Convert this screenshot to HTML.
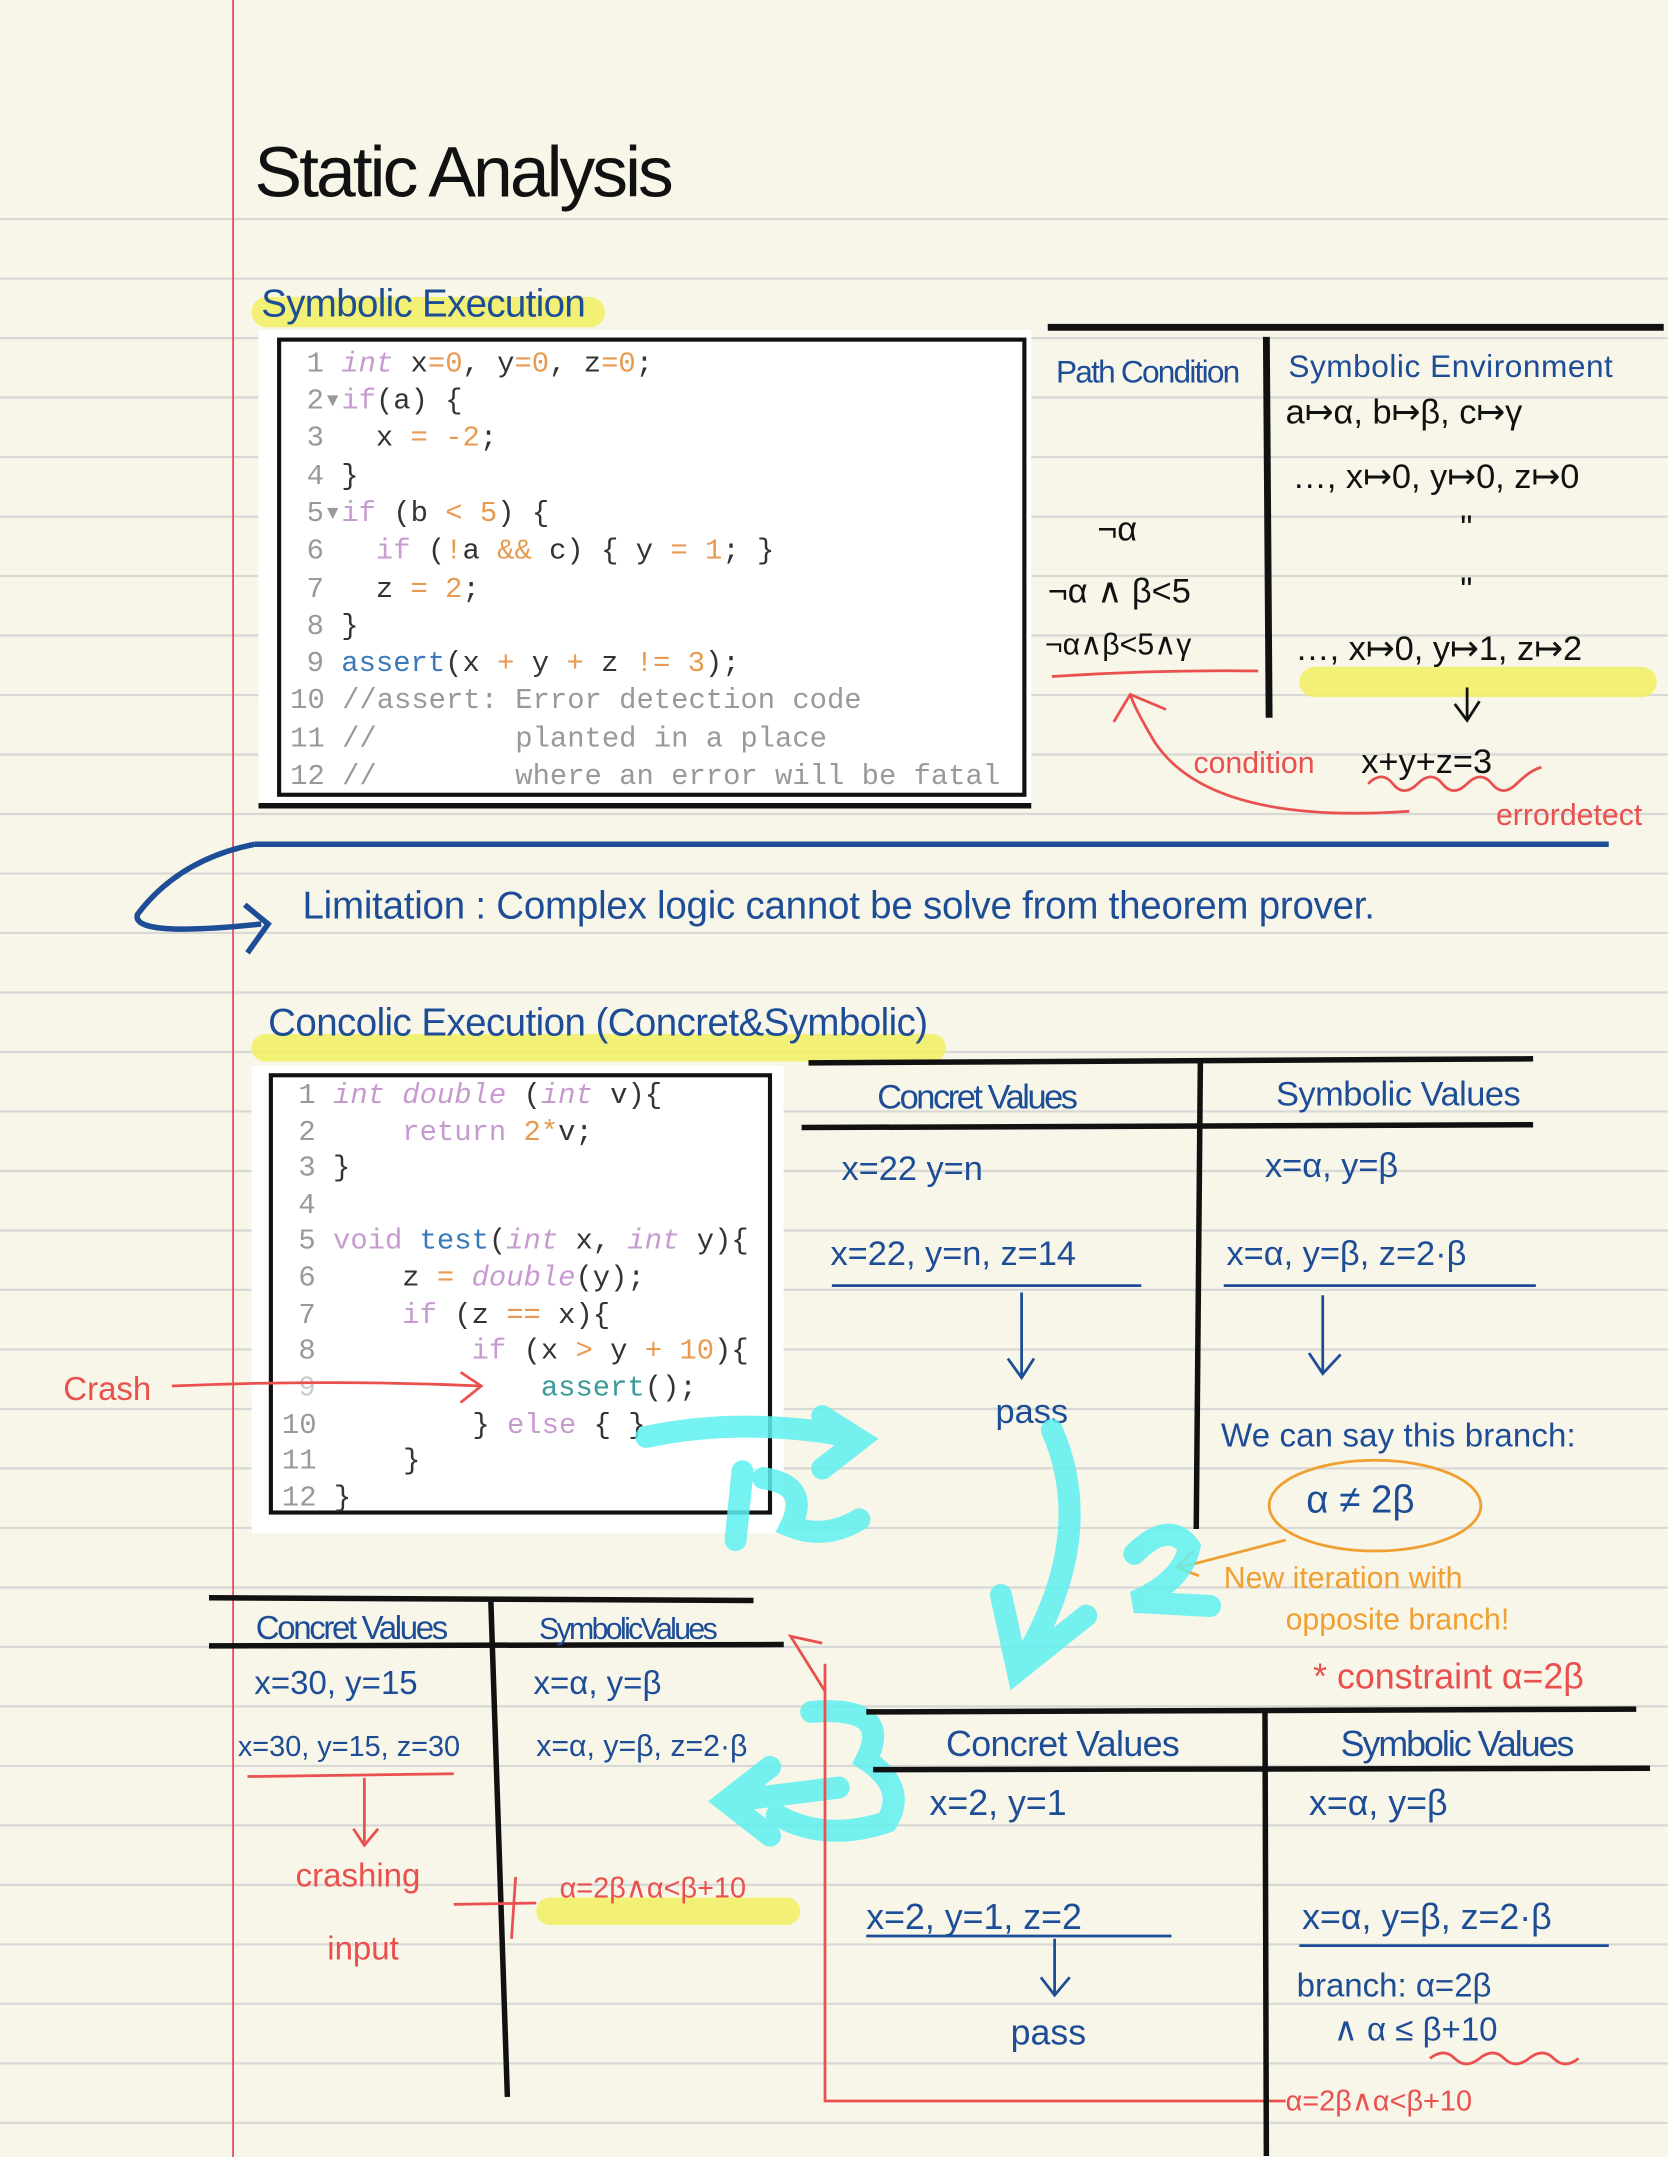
<!DOCTYPE html>
<html><head><meta charset="utf-8"><style>
html,body{margin:0;padding:0;background:#f8f5e9;}
svg{display:block}
.hw{font-family:"Liberation Sans",sans-serif;}
.code{font-family:"Liberation Mono",monospace;font-size:21px;}
</style></head><body>
<svg width="1668" height="2157" viewBox="0 0 1213.1 1568.7" preserveAspectRatio="none" xmlns="http://www.w3.org/2000/svg">
<rect width="1213.1" height="1568.7" fill="#f8f5e9"/>
<g stroke="#d8d8d6" stroke-width="1.6">
<line x1="0" y1="159.3" x2="1213" y2="159.3"/><line x1="0" y1="202.6" x2="1213" y2="202.6"/><line x1="0" y1="245.9" x2="1213" y2="245.9"/><line x1="0" y1="289.1" x2="1213" y2="289.1"/><line x1="0" y1="332.4" x2="1213" y2="332.4"/><line x1="0" y1="375.7" x2="1213" y2="375.7"/><line x1="0" y1="418.9" x2="1213" y2="418.9"/><line x1="0" y1="462.2" x2="1213" y2="462.2"/><line x1="0" y1="505.5" x2="1213" y2="505.5"/><line x1="0" y1="548.7" x2="1213" y2="548.7"/><line x1="0" y1="592" x2="1213" y2="592"/><line x1="0" y1="635.3" x2="1213" y2="635.3"/><line x1="0" y1="678.5" x2="1213" y2="678.5"/><line x1="0" y1="721.8" x2="1213" y2="721.8"/><line x1="0" y1="765.1" x2="1213" y2="765.1"/><line x1="0" y1="808.3" x2="1213" y2="808.3"/><line x1="0" y1="851.6" x2="1213" y2="851.6"/><line x1="0" y1="894.9" x2="1213" y2="894.9"/><line x1="0" y1="938.1" x2="1213" y2="938.1"/><line x1="0" y1="981.4" x2="1213" y2="981.4"/><line x1="0" y1="1024.7" x2="1213" y2="1024.7"/><line x1="0" y1="1067.9" x2="1213" y2="1067.9"/><line x1="0" y1="1111.2" x2="1213" y2="1111.2"/><line x1="0" y1="1154.5" x2="1213" y2="1154.5"/><line x1="0" y1="1197.7" x2="1213" y2="1197.7"/><line x1="0" y1="1241" x2="1213" y2="1241"/><line x1="0" y1="1284.3" x2="1213" y2="1284.3"/><line x1="0" y1="1327.5" x2="1213" y2="1327.5"/><line x1="0" y1="1370.8" x2="1213" y2="1370.8"/><line x1="0" y1="1414.1" x2="1213" y2="1414.1"/><line x1="0" y1="1457.3" x2="1213" y2="1457.3"/><line x1="0" y1="1500.6" x2="1213" y2="1500.6"/><line x1="0" y1="1543.9" x2="1213" y2="1543.9"/>
</g>
<line x1="169.5" y1="0" x2="169.5" y2="1569" stroke="#e0415a" stroke-width="1.2"/>

<text x="185" y="143" class="hw" font-size="52" fill="#111" textLength="305">Static Analysis</text>
<rect x="183" y="216" width="257" height="22" rx="11" fill="#f2f060" opacity="0.85"/>
<text x="190" y="230" class="hw" font-size="28" fill="#1d4d96" textLength="236">Symbolic Execution</text>

<rect x="188" y="240" width="562" height="348" fill="#fff"/>
<rect x="203" y="247" width="542" height="331" fill="none" stroke="#111" stroke-width="3"/>
<line x1="188" y1="586" x2="750" y2="586" stroke="#111" stroke-width="4"/>
<g class="code">
<text x="223" y="270"><tspan fill="#999">1&#160;</tspan><tspan fill="#c89bd0" font-style="italic">int</tspan><tspan fill="#333">&#160;x</tspan><tspan fill="#e89a50">=0</tspan><tspan fill="#333">,&#160;y</tspan><tspan fill="#e89a50">=0</tspan><tspan fill="#333">,&#160;z</tspan><tspan fill="#e89a50">=0</tspan><tspan fill="#333">;</tspan></text>
<text x="223" y="297"><tspan fill="#999">2▾</tspan><tspan fill="#c89bd0">if</tspan><tspan fill="#333">(a)&#160;{</tspan></text>
<text x="223" y="324"><tspan fill="#999">3&#160;&#160;&#160;</tspan><tspan fill="#333">x&#160;</tspan><tspan fill="#e89a50">=&#160;-2</tspan><tspan fill="#333">;</tspan></text>
<text x="223" y="352"><tspan fill="#999">4&#160;</tspan><tspan fill="#333">}</tspan></text>
<text x="223" y="379"><tspan fill="#999">5▾</tspan><tspan fill="#c89bd0">if</tspan><tspan fill="#333">&#160;(b&#160;</tspan><tspan fill="#e89a50">&lt;&#160;5</tspan><tspan fill="#333">)&#160;{</tspan></text>
<text x="223" y="406"><tspan fill="#999">6&#160;&#160;&#160;</tspan><tspan fill="#c89bd0">if</tspan><tspan fill="#333">&#160;(</tspan><tspan fill="#e89a50">!</tspan><tspan fill="#333">a&#160;</tspan><tspan fill="#e89a50">&amp;&amp;</tspan><tspan fill="#333">&#160;c)&#160;{&#160;y&#160;</tspan><tspan fill="#e89a50">=&#160;1</tspan><tspan fill="#333">;&#160;}</tspan></text>
<text x="223" y="434"><tspan fill="#999">7&#160;&#160;&#160;</tspan><tspan fill="#333">z&#160;</tspan><tspan fill="#e89a50">=&#160;2</tspan><tspan fill="#333">;</tspan></text>
<text x="223" y="461"><tspan fill="#999">8&#160;</tspan><tspan fill="#333">}</tspan></text>
<text x="223" y="488"><tspan fill="#999">9&#160;</tspan><tspan fill="#3a7ab8">assert</tspan><tspan fill="#333">(x&#160;</tspan><tspan fill="#e89a50">+</tspan><tspan fill="#333">&#160;y&#160;</tspan><tspan fill="#e89a50">+</tspan><tspan fill="#333">&#160;z&#160;</tspan><tspan fill="#e89a50">!=&#160;3</tspan><tspan fill="#333">);</tspan></text>
<text x="211" y="515" fill="#999">10&#160;//assert:&#160;Error&#160;detection&#160;code</text>
<text x="211" y="543" fill="#999">11&#160;//&#160;&#160;&#160;&#160;&#160;&#160;&#160;&#160;planted&#160;in&#160;a&#160;place</text>
<text x="211" y="570" fill="#999">12&#160;//&#160;&#160;&#160;&#160;&#160;&#160;&#160;&#160;where&#160;an&#160;error&#160;will&#160;be&#160;fatal</text>
</g>

<line x1="762" y1="238" x2="1210" y2="238" stroke="#111" stroke-width="5"/>
<line x1="921" y1="245" x2="923" y2="522" stroke="#111" stroke-width="5"/>
<g class="hw" fill="#1d4d96" font-size="23">
<text x="768" y="278" textLength="134">Path Condition</text>
<text x="937" y="274" textLength="236">Symbolic Environment</text>
</g>
<rect x="945" y="485" width="260" height="22" rx="11" fill="#f2f060" opacity="0.85"/>
<g class="hw" fill="#111" font-size="25">
<text x="935" y="308">a↦α, b↦β, c↦γ</text>
<text x="940" y="355">…, x↦0, y↦0, z↦0</text>
<text x="1062" y="392">"</text>
<text x="1062" y="437">"</text>
<text x="798" y="393">¬α</text>
<text x="762" y="438">¬α ∧ β&lt;5</text>
<text x="760" y="476" font-size="22">¬α∧β&lt;5∧γ</text>
<text x="942" y="480">…, x↦0, y↦1, z↦2</text>
<text x="990" y="562">x+y+z=3</text>
</g>
<path d="M1067 500 V523 M1058 512 L1067 524 L1076 510" fill="none" stroke="#111" stroke-width="2"/>
<g fill="none" stroke="#e9504e" stroke-width="2">
<path d="M765 492 Q840 487 915 488"/>
<path d="M1025 590 Q880 600 840 540 Q825 515 822 505 M810 525 L822 505 L848 516"/>
<path d="M995 570 q10 -10 18 0 t18 0 t18 0 t18 0 t18 0 t18 0 t18 -12"/>
</g>
<text x="868" y="562" class="hw" font-size="22" fill="#e9504e">condition</text>
<text x="1088" y="600" class="hw" font-size="22" fill="#e9504e">errordetect</text>

<path d="M185 614 Q700 612 1170 614" fill="none" stroke="#1d4d96" stroke-width="4"/>
<path d="M185 614 Q130 625 100 665 Q95 682 190 672 M178 658 L195 672 L180 693" fill="none" stroke="#1d4d96" stroke-width="4"/>
<text x="220" y="668" class="hw" font-size="28" fill="#1d4d96" textLength="780">Limitation  : Complex logic cannot be solve from theorem prover.</text>

<rect x="183" y="752" width="505" height="20" rx="10" fill="#f2f060" opacity="0.85"/>
<text x="195" y="753" class="hw" font-size="28" fill="#1d4d96" textLength="480">Concolic Execution (Concret&amp;Symbolic)</text>

<rect x="183" y="775" width="387" height="340" fill="#fff"/>
<rect x="197" y="782" width="363" height="318" fill="none" stroke="#111" stroke-width="3"/>
<g class="code">
<text x="217" y="802"><tspan fill="#999">1&#160;</tspan><tspan fill="#c89bd0" font-style="italic">int&#160;double</tspan><tspan fill="#333">&#160;(</tspan><tspan fill="#c89bd0" font-style="italic">int</tspan><tspan fill="#333">&#160;v){</tspan></text>
<text x="217" y="829"><tspan fill="#999">2&#160;&#160;&#160;&#160;&#160;</tspan><tspan fill="#c89bd0">return</tspan><tspan fill="#e89a50">&#160;2*</tspan><tspan fill="#333">v;</tspan></text>
<text x="217" y="855"><tspan fill="#999">3&#160;</tspan><tspan fill="#333">}</tspan></text>
<text x="217" y="882" fill="#999">4</text>
<text x="217" y="908"><tspan fill="#999">5&#160;</tspan><tspan fill="#c89bd0">void</tspan><tspan fill="#3a7ab8">&#160;test</tspan><tspan fill="#333">(</tspan><tspan fill="#c89bd0" font-style="italic">int</tspan><tspan fill="#333">&#160;x,&#160;</tspan><tspan fill="#c89bd0" font-style="italic">int</tspan><tspan fill="#333">&#160;y){</tspan></text>
<text x="217" y="935"><tspan fill="#999">6&#160;&#160;&#160;&#160;&#160;</tspan><tspan fill="#333">z&#160;</tspan><tspan fill="#e89a50">=</tspan><tspan fill="#c89bd0" font-style="italic">&#160;double</tspan><tspan fill="#333">(y);</tspan></text>
<text x="217" y="962"><tspan fill="#999">7&#160;&#160;&#160;&#160;&#160;</tspan><tspan fill="#c89bd0">if</tspan><tspan fill="#333">&#160;(z&#160;</tspan><tspan fill="#e89a50">==</tspan><tspan fill="#333">&#160;x){</tspan></text>
<text x="217" y="988"><tspan fill="#999">8&#160;&#160;&#160;&#160;&#160;&#160;&#160;&#160;&#160;</tspan><tspan fill="#c89bd0">if</tspan><tspan fill="#333">&#160;(x&#160;</tspan><tspan fill="#e89a50">&gt;</tspan><tspan fill="#333">&#160;y&#160;</tspan><tspan fill="#e89a50">+&#160;10</tspan><tspan fill="#333">){</tspan></text>
<text x="217" y="1015"><tspan fill="#ccc">9&#160;&#160;&#160;&#160;&#160;&#160;&#160;&#160;&#160;&#160;&#160;&#160;&#160;</tspan><tspan fill="#3a9a9a">assert</tspan><tspan fill="#333">();</tspan></text>
<text x="205" y="1042"><tspan fill="#999">10&#160;&#160;&#160;&#160;&#160;&#160;&#160;&#160;&#160;</tspan><tspan fill="#333">}&#160;</tspan><tspan fill="#c89bd0">else</tspan><tspan fill="#333">&#160;{&#160;}</tspan></text>
<text x="205" y="1068"><tspan fill="#999">11&#160;&#160;&#160;&#160;&#160;</tspan><tspan fill="#333">}</tspan></text>
<text x="205" y="1095"><tspan fill="#999">12&#160;</tspan><tspan fill="#333">}</tspan></text>
</g>
<text x="46" y="1018" class="hw" font-size="24" fill="#e9504e">Crash</text>
<path d="M125 1008 Q240 1003 350 1008 M335 998 L350 1008 L335 1020" fill="none" stroke="#e9504e" stroke-width="2"/>

<line x1="588" y1="773" x2="1115" y2="770" stroke="#111" stroke-width="4"/>
<line x1="583" y1="820" x2="1115" y2="818" stroke="#111" stroke-width="4"/>
<line x1="873" y1="772" x2="870" y2="1112" stroke="#111" stroke-width="4"/>
<g class="hw" fill="#1d4d96" font-size="25">
<text x="638" y="806" textLength="146">Concret Values</text>
<text x="928" y="804" textLength="178">Symbolic Values</text>
<text x="612" y="858">x=22  y=n</text>
<text x="920" y="856">x=α, y=β</text>
<text x="604" y="920">x=22, y=n, z=14</text>
<text x="892" y="920">x=α, y=β, z=2·β</text>
<text x="724" y="1035">pass</text>
<text x="888" y="1052" font-size="24" textLength="258">We can say  this branch:</text>
<text x="950" y="1100" font-size="28">α ≠ 2β</text>
</g>
<g fill="none" stroke="#1d4d96" stroke-width="2">
<line x1="605" y1="935" x2="830" y2="935"/><line x1="890" y1="935" x2="1117" y2="935"/>
<path d="M743 940 V1000 M733 988 L743 1002 L752 988"/>
<path d="M962 942 V998 M952 984 L962 999 L975 985"/>
</g>
<ellipse cx="1000" cy="1095" rx="77" ry="33" fill="none" stroke="#f0a030" stroke-width="2"/>
<path d="M935 1120 L858 1140 M868 1128 L856 1140 L872 1146" fill="none" stroke="#f0a030" stroke-width="2"/>
<g class="hw" fill="#f0a030" font-size="22">
<text x="890" y="1155">New iteration with</text>
<text x="935" y="1185">opposite branch!</text>
</g>
<text x="955" y="1228" class="hw" font-size="26" fill="#e9504e">* constraint α=2β</text>

<g fill="none" stroke="#5ef0f0" stroke-width="16" stroke-linecap="round" opacity="0.85">
<path d="M470 1045 Q540 1030 620 1045 M598 1030 L625 1047 L598 1068"/>
<path d="M540 1070 L535 1120 M555 1075 Q590 1080 575 1110 Q600 1120 625 1105"/>
<path d="M765 1040 Q800 1120 740 1215 M728 1160 L740 1215 L790 1175"/>
<path d="M825 1130 Q850 1105 865 1125 Q860 1150 825 1165 L880 1168"/>
<path d="M590 1245 Q650 1240 630 1280 Q660 1300 645 1325 Q600 1340 565 1320"/>
<path d="M610 1300 L530 1310 M560 1285 L528 1310 L560 1335"/>
</g>

<line x1="152" y1="1162" x2="548" y2="1164" stroke="#111" stroke-width="4"/>
<line x1="152" y1="1197" x2="570" y2="1196" stroke="#111" stroke-width="4"/>
<line x1="357" y1="1165" x2="369" y2="1525" stroke="#111" stroke-width="4"/>
<g class="hw" fill="#1d4d96" font-size="24">
<text x="186" y="1192" textLength="140">Concret Values</text>
<text x="392" y="1192" font-size="22" textLength="130">SymbolicValues</text>
<text x="185" y="1232">x=30, y=15</text>
<text x="388" y="1232">x=α, y=β</text>
<text x="173" y="1277" font-size="21">x=30, y=15, z=30</text>
<text x="390" y="1277" font-size="22">x=α, y=β, z=2·β</text>
</g>
<g fill="none" stroke="#e9504e" stroke-width="2">
<line x1="180" y1="1292" x2="330" y2="1290"/>
<path d="M265 1293 V1340 M257 1330 L265 1342 L275 1330"/>
<path d="M330 1385 L390 1384 M375 1365 L372 1410"/>
<path d="M600 1210 V1528 H935 M600 1230 L575 1190 L598 1195"/>
</g>
<rect x="390" y="1380" width="192" height="20" rx="10" fill="#f2f060" opacity="0.85"/>
<g class="hw" fill="#e9504e" font-size="24">
<text x="215" y="1372">crashing</text>
<text x="238" y="1425">input</text>
<text x="407" y="1380" font-size="21">α=2β∧α&lt;β+10</text>
<text x="935" y="1535" font-size="21">α=2β∧α&lt;β+10</text>
</g>

<line x1="630" y1="1245" x2="1190" y2="1243" stroke="#111" stroke-width="4"/>
<line x1="635" y1="1287" x2="1200" y2="1286" stroke="#111" stroke-width="4"/>
<line x1="920" y1="1245" x2="921" y2="1568" stroke="#111" stroke-width="4"/>
<g class="hw" fill="#1d4d96" font-size="26">
<text x="688" y="1277" textLength="170">Concret Values</text>
<text x="975" y="1277" textLength="170">Symbolic Values</text>
<text x="676" y="1320">x=2, y=1</text>
<text x="952" y="1320">x=α, y=β</text>
<text x="630" y="1403">x=2, y=1, z=2</text>
<text x="947" y="1403">x=α, y=β, z=2·β</text>
<text x="735" y="1487">pass</text>
<text x="943" y="1452" font-size="24">branch: α=2β</text>
<text x="970" y="1484" font-size="24">∧ α ≤ β+10</text>
</g>
<g fill="none" stroke="#1d4d96" stroke-width="2">
<line x1="630" y1="1408" x2="852" y2="1408"/>
<line x1="945" y1="1415" x2="1170" y2="1415"/>
<path d="M767 1410 V1450 M757 1438 L767 1451 L778 1438"/>
</g>
<path d="M1040 1497 q10 -8 18 0 t18 0 t18 0 t18 0 t18 0 t18 0" fill="none" stroke="#e9504e" stroke-width="2"/>
</svg>
</body></html>
